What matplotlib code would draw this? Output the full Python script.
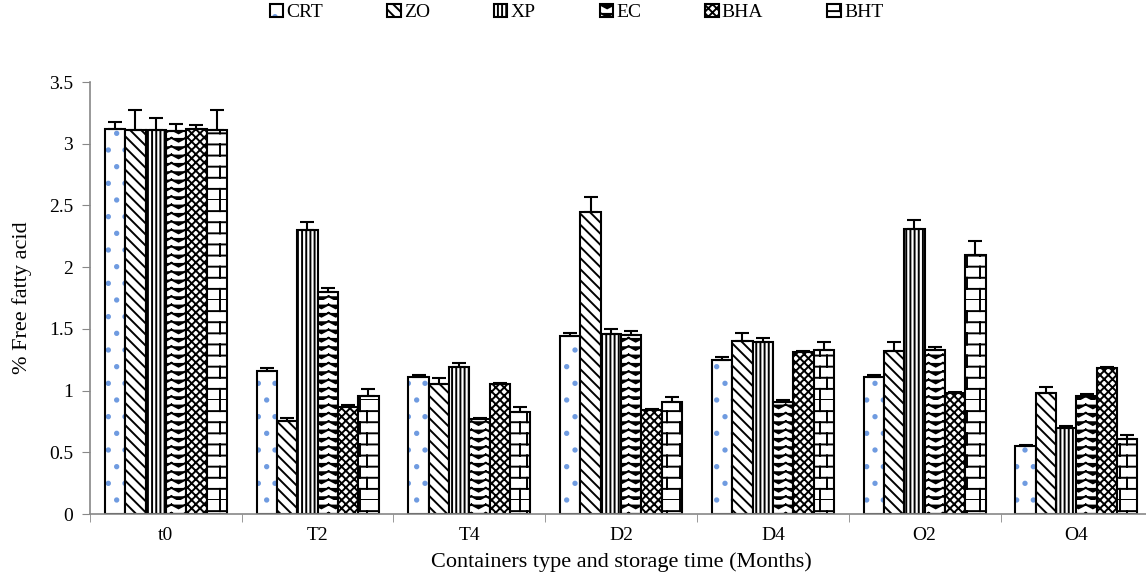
import numpy as np
import matplotlib
matplotlib.use('Agg')
import matplotlib.pyplot as plt
from matplotlib import hatch as mhatch
from matplotlib.path import Path
from matplotlib.legend_handler import HandlerTuple

# Data
groups = ['t0', 'T2', 'T4', 'D2', 'D4', 'O2', 'O4']
series = ['CRT', 'ZO', 'XP', 'EC', 'BHA', 'BHT']

crt = [3.12, 1.16, 1.11, 1.44, 1.25, 1.11, 0.55]
zo = [3.11, 0.75, 1.05, 2.45, 1.40, 1.32, 0.98]
xp = [3.11, 2.30, 1.19, 1.46, 1.39, 2.31, 0.70]
ec = [3.10, 1.80, 0.77, 1.45, 0.91, 1.33, 0.96]
bha = [3.12, 0.87, 1.05, 0.84, 1.31, 0.98, 1.18]
bht = [3.11, 0.96, 0.83, 0.91, 1.33, 2.10, 0.61]

crt_err = [0.06, 0.02, 0.02, 0.03, 0.02, 0.02, 0.01]
zo_err = [0.16, 0.03, 0.05, 0.12, 0.07, 0.07, 0.05]
xp_err = [0.10, 0.07, 0.03, 0.04, 0.04, 0.07, 0.01]
ec_err = [0.06, 0.03, 0.01, 0.03, 0.01, 0.02, 0.01]
bha_err = [0.03, 0.01, 0.01, 0.01, 0.01, 0.01, 0.01]
bht_err = [0.16, 0.05, 0.04, 0.04, 0.06, 0.11, 0.03]


# Custom hatches (Excel-like chevron and brick), hijacking '*' and 'O'
class ChevronHatch(mhatch.HatchPatternBase):
    def __init__(self, hatch, density):
        self.rows = int(hatch.count('*') * density * 2)
        self.cols = 7 if self.rows else 0
        self.num_vertices = self.rows * self.cols * 3

    def set_vertices_and_codes(self, vertices, codes):
        k = 0
        d = 0.45 / self.rows
        for i in range(self.rows):
            y = i / self.rows
            for j in range(self.cols):
                x0 = j / self.cols
                x1 = (j + 1) / self.cols
                vertices[k:k + 3] = [(x0, y + d), ((x0 + x1) / 2, y), (x1, y + d)]
                codes[k:k + 3] = [Path.MOVETO, Path.LINETO, Path.LINETO]
                k += 3


class BrickHatch(mhatch.HatchPatternBase):
    def __init__(self, hatch, density):
        self.rows = int(hatch.count('O') * density * 1.5)
        self.cols = 5 if self.rows else 0
        self.num_vertices = self.rows * 2 + self.rows * self.cols * 2

    def set_vertices_and_codes(self, vertices, codes):
        k = 0
        for i in range(self.rows):
            y0 = i / self.rows
            y1 = (i + 1) / self.rows
            vertices[k:k + 2] = [(0, y0), (1, y0)]
            codes[k:k + 2] = [Path.MOVETO, Path.LINETO]
            k += 2
            off = 0.35 / self.cols if i % 2 else 0.0
            for j in range(self.cols):
                x = j / self.cols + off
                vertices[k:k + 2] = [(x, y0), (x, y1)]
                codes[k:k + 2] = [Path.MOVETO, Path.LINETO]
                k += 2


mhatch._hatch_types[:] = [t for t in mhatch._hatch_types
                          if t not in (mhatch.Stars, mhatch.LargeCircles)]
mhatch._hatch_types += [ChevronHatch, BrickHatch]

plt.rcParams['font.family'] = ['Liberation Serif', 'DejaVu Serif']
plt.rcParams['hatch.linewidth'] = 1.4

values = [crt, zo, xp, ec, bha, bht]
errors = [crt_err, zo_err, xp_err, ec_err, bha_err, bht_err]
hatches = ['.', '\\\\\\', '||||', '*', 'xxxx', 'O']

fig = plt.figure(figsize=(11.46, 5.74), dpi=100)
ax = fig.add_axes([0.0785, 0.1045, 0.927, 0.7525])

x = np.arange(len(groups))
w = 0.134
handles = []
for i, name in enumerate(series):
    pos = x + (i - 2.5) * w
    v = np.array(values[i])
    e = np.array(errors[i])
    if name == 'CRT':
        dots = ax.bar(pos, v, w, color='white', edgecolor='#6f9be0', lw=0,
                      hatch='.')
        box = ax.bar(pos, v, w, fill=False, edgecolor='black', lw=1.5)
        handles.append((dots[0], box[0]))
    else:
        b = ax.bar(pos, v, w, color='white', edgecolor='black', lw=1.5,
                   hatch=hatches[i])
        handles.append(b[0])
    ax.errorbar(pos, v, yerr=[np.zeros_like(e), e], fmt='none',
                ecolor='black', elinewidth=1.5, capsize=5, capthick=1.5)

ax.set_xlim(-0.5, len(groups) - 0.5)
ax.set_ylim(0, 3.5)
ax.set_yticks(np.arange(0, 3.51, 0.5))
ax.set_yticklabels(['0', '0.5', '1', '1.5', '2', '2.5', '3', '3.5'])
ax.set_xticks(x)
ax.set_xticklabels(groups)
ax.set_xticks(np.arange(-0.5, len(groups), 1), minor=True)
ax.tick_params(axis='x', which='major', length=0, pad=9, labelsize=14)
ax.tick_params(axis='x', which='minor', length=6, color='#888888', direction='out')
ax.tick_params(axis='y', length=6, color='#888888', labelsize=14, pad=6)

for s in ['top', 'right']:
    ax.spines[s].set_visible(False)
for s in ['left', 'bottom']:
    ax.spines[s].set_color('#888888')
    ax.spines[s].set_linewidth(1.2)

ax.set_ylabel('% Free fatty acid', fontsize=16, labelpad=12)
ax.set_xlabel('Containers type and storage time (Months)', fontsize=16, labelpad=6)

fig.legend(handles, series, loc='center', bbox_to_anchor=(0.503, 0.978),
           ncol=6, frameon=False, fontsize=14, handlelength=0.7,
           handleheight=0.7, handletextpad=0.15, columnspacing=3.3,
           handler_map={tuple: HandlerTuple(ndivide=1, pad=0)})

fig.savefig('out.png', dpi=100)
